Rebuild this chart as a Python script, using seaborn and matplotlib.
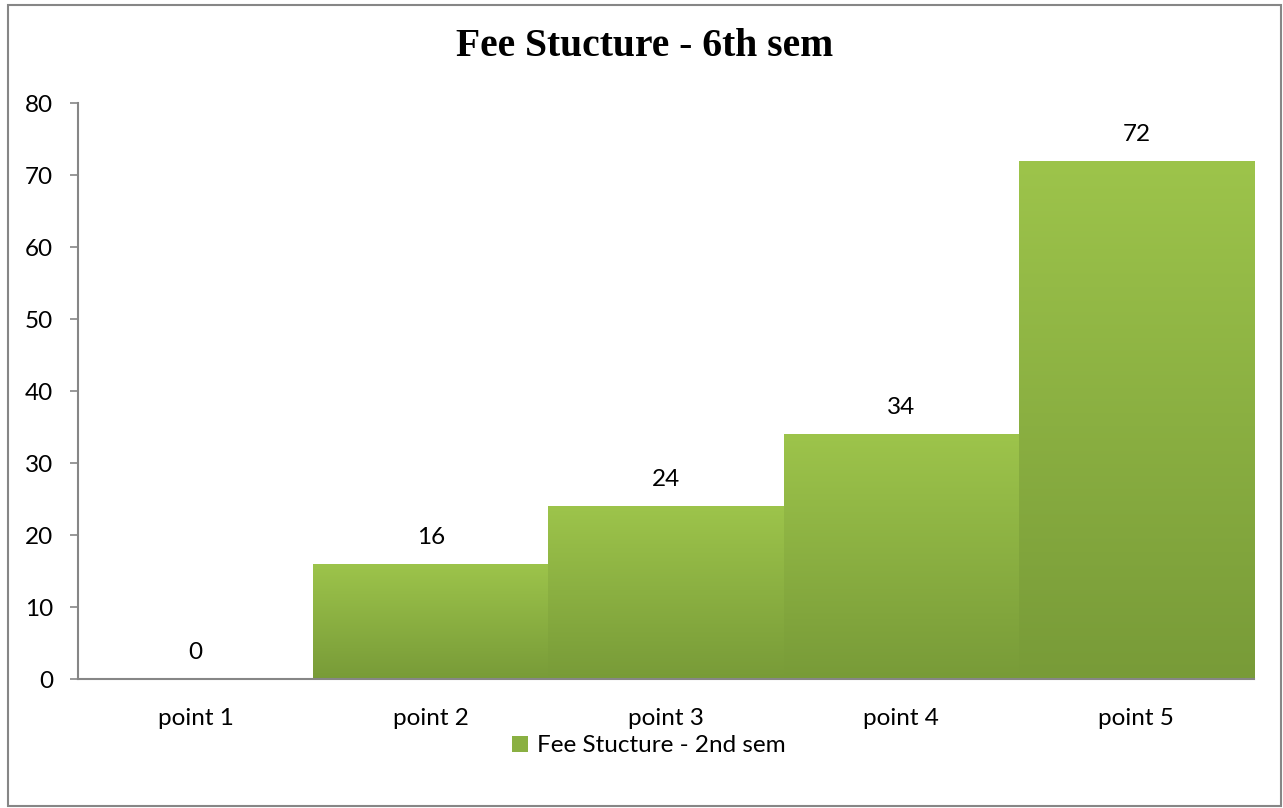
import numpy as np
import pandas as pd
import matplotlib
matplotlib.use("Agg")
import matplotlib.pyplot as plt
import seaborn as sns
from matplotlib.colors import LinearSegmentedColormap
from matplotlib.patches import Rectangle, Patch

categories = ["point 1", "point 2", "point 3", "point 4", "point 5"]
values = [0, 16, 24, 34, 72]
series_name = "Fee Stucture - 2nd sem"
title = "Fee Stucture - 6th sem"
yticks = [0, 10, 20, 30, 40, 50, 60, 70, 80]

sns.set_theme(style="white")
plt.rcParams['font.family'] = ['Lato', 'DejaVu Sans']
plt.rcParams['text.color'] = 'black'
plt.rcParams['xtick.color'] = 'black'
plt.rcParams['ytick.color'] = 'black'

df = pd.DataFrame({"cat": categories, "val": values})

fig = plt.figure(figsize=(12.83, 8.08), dpi=100)
ax = fig.add_axes([78/1283, 1 - 679/808, (1254-78)/1283, (679-103)/808])

top_c = "#9DC44B"
bot_c = "#789B38"
sns.barplot(data=df, x="cat", y="val", ax=ax, color=top_c, width=1.0,
            saturation=1, edgecolor="none", linewidth=0)

cmap = LinearSegmentedColormap.from_list("g", [bot_c, top_c])
grad = np.linspace(0, 1, 256).reshape(-1, 1)
for p in ax.patches:
    x0, y0 = p.get_x(), p.get_y()
    w, h = p.get_width(), p.get_height()
    if h <= 0:
        continue
    im = ax.imshow(grad, extent=[x0, x0 + w, y0, y0 + h], origin="lower",
                   cmap=cmap, aspect="auto", zorder=p.get_zorder() + 0.1)
    im.set_clip_path(p)

ax.set_xlim(-0.5, 4.5)
ax.set_ylim(0, 80)
ax.set_yticks(yticks)
ax.set_yticklabels([str(t) for t in yticks], fontsize=17.5, color="black")
ax.tick_params(axis="x", labelsize=17.5, length=0, pad=21, labelcolor="black")
ax.tick_params(axis="y", length=6, width=1.2, color="#868686", left=True, pad=12,
               labelcolor="black")
ax.set_xlabel("")
ax.set_ylabel("")

for s in ["top", "right"]:
    ax.spines[s].set_visible(False)
for s in ["left", "bottom"]:
    ax.spines[s].set_color("#868686")
    ax.spines[s].set_linewidth(1.5)

for i, v in enumerate(values):
    ax.text(i, v + 2.2, str(v), ha="center", va="bottom", fontsize=17.5, color="black")

fig.text(645/1283, 1 - 46/808, title, ha="center", va="center", fontsize=28.5,
         fontweight="bold", color="black", family=["Liberation Serif", "DejaVu Serif"])

handle = Patch(facecolor="#8AB042", edgecolor="none")
fig.legend([handle], [series_name], loc="center", bbox_to_anchor=(649/1283, 1 - 746/808),
           frameon=False, fontsize=17.5, handlelength=0.65, handleheight=0.65,
           handletextpad=0.4, labelcolor="black")

border = Rectangle((8/1283, 1 - 806/808), (1281-8)/1283, (806-5)/808, transform=fig.transFigure,
                   fill=False, edgecolor="#868686", linewidth=1.5)
fig.patches.append(border)

fig.savefig("out.png", dpi=100)
